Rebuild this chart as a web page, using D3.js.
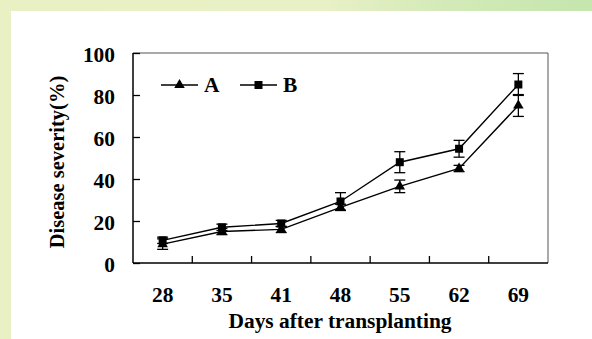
<!DOCTYPE html>
<html>
<head>
<meta charset="utf-8">
<script src="https://cdn.jsdelivr.net/npm/d3@7"></script>
<style>
  body { margin: 0; padding: 0; }
  svg { display: block; }
</style>
</head>
<body>
<svg width="592" height="339"></svg>
<script>
var days = ['28', '35', '41', '48', '55', '62', '69'];
var valuesA = [9, 15, 16, 26.5, 36.5, 45, 75];
var errorsA = [2.5, 1.5, 1.5, 1.5, 3, 1.5, 5.2];
var valuesB = [10.8, 17, 18.8, 29.3, 48, 54.4, 85];
var errorsB = [1.5, 1.5, 1.5, 4.2, 5, 4, 5.2];
var yTicks = [0, 20, 40, 60, 80, 100];
var seriesNames = ['A', 'B'];

var svg = d3.select('svg');
var margin = {top: 53, right: 44, bottom: 76, left: 133};
var width = 592 - margin.left - margin.right;
var height = 339 - margin.top - margin.bottom;
var font = 'Liberation Serif, Times New Roman, serif';
var stretch = 1.07;

// background
var defs = svg.append('defs');
var grad = defs.append('linearGradient').attr('id', 'bg').attr('x1', '0').attr('x2', '1');
grad.append('stop').attr('offset', '0').attr('stop-color', '#e9f0c3');
grad.append('stop').attr('offset', '0.55').attr('stop-color', '#e8f0c6');
grad.append('stop').attr('offset', '0.75').attr('stop-color', '#d3eab8');
grad.append('stop').attr('offset', '1').attr('stop-color', '#c5e6ae');
svg.append('rect').attr('width', 592).attr('height', 339).attr('fill', 'url(#bg)');
svg.append('rect').attr('x', 11).attr('y', 11).attr('width', 581).attr('height', 328).attr('fill', '#fff');

var g = svg.append('g').attr('transform', 'translate(' + margin.left + ',' + margin.top + ')');

var x = d3.scaleBand().domain(days).range([0, width]);
var y = d3.scaleLinear().domain([0, 100]).range([height, 0]);
var cx = function (d, i) { return x(days[i]) + x.bandwidth() / 2; };

// bold text, a little wider than the plain font
function label(parent, px, py, size, anchor, txt) {
    return parent.append('text')
        .attr('transform', 'translate(' + px + ',' + py + ') scale(' + stretch + ',1)')
        .attr('text-anchor', anchor)
        .attr('font-family', font)
        .attr('font-weight', 'bold').attr('font-size', size)
        .text(txt);
}

// frame
g.append('line').attr('x1', 0).attr('x2', width).attr('y1', 0).attr('y2', 0)
    .attr('stroke', '#555').attr('stroke-width', 1);
g.append('line').attr('x1', width).attr('x2', width).attr('y1', 0).attr('y2', height)
    .attr('stroke', '#555').attr('stroke-width', 1);

// y axis, ticks inward
var yAxis = g.append('g')
    .call(d3.axisRight(y).tickValues(yTicks).tickSize(7).tickFormat(''));
yAxis.select('.domain').remove();
yAxis.selectAll('.tick line').attr('stroke', '#000').attr('stroke-width', 1.3);
g.append('line').attr('x1', 0).attr('x2', 0).attr('y1', 0).attr('y2', height)
    .attr('stroke', '#000').attr('stroke-width', 1.5);
yTicks.forEach(function (t) {
    label(g, -18, y(t) + 9, 20, 'end', t);
});

// x axis, ticks inward at band edges
var edges = days.map(function (d) { return x(d); });
g.selectAll('.xtick').data(edges.slice(1)).enter().append('line')
    .attr('x1', function (d) { return d; }).attr('x2', function (d) { return d; })
    .attr('y1', height).attr('y2', height - 7)
    .attr('stroke', '#000').attr('stroke-width', 1.3);
g.append('line').attr('x1', 0).attr('x2', width).attr('y1', height).attr('y2', height)
    .attr('stroke', '#000').attr('stroke-width', 1.5);
days.forEach(function (d) {
    label(g, x(d) + x.bandwidth() / 2, height + 38.5, 20, 'middle', d);
});

// axis titles
label(svg, 340, 328, 20, 'middle', 'Days after transplanting');
svg.append('text')
    .attr('transform', 'translate(64,162) rotate(-90)')
    .attr('text-anchor', 'middle')
    .attr('font-family', font)
    .attr('font-weight', 'bold').attr('font-size', 20.5)
    .text('Disease severity(%)');

var line = d3.line()
    .x(function (d, i) { return x(days[i]) + x.bandwidth() / 2; })
    .y(function (d) { return y(d); });

var triangle = d3.symbol().type(d3.symbolTriangle).size(48);
var square = d3.symbol().type(d3.symbolSquare).size(64);

function drawSeries(vals, errs, sym) {
    var s = g.append('g');
    s.append('path').datum(vals).attr('d', line)
        .attr('fill', 'none').attr('stroke', '#000').attr('stroke-width', 1.4);
    var eb = s.selectAll('.eb').data(vals).enter().append('g');
    eb.append('line')
        .attr('x1', cx).attr('x2', cx)
        .attr('y1', function (d, i) { return y(d - errs[i]); })
        .attr('y2', function (d, i) { return y(d + errs[i]); })
        .attr('stroke', '#000').attr('stroke-width', 1.3);
    [-1, 1].forEach(function (sgn) {
        eb.append('line')
            .attr('x1', function (d, i) { return cx(d, i) - 5.5; })
            .attr('x2', function (d, i) { return cx(d, i) + 5.5; })
            .attr('y1', function (d, i) { return y(d + sgn * errs[i]); })
            .attr('y2', function (d, i) { return y(d + sgn * errs[i]); })
            .attr('stroke', '#000').attr('stroke-width', 1.3);
    });
    s.selectAll('.pt').data(vals).enter().append('path')
        .attr('d', sym)
        .attr('transform', function (d, i) { return 'translate(' + cx(d, i) + ',' + y(d) + ')'; })
        .attr('fill', '#000');
}
drawSeries(valuesA, errorsA, triangle);
drawSeries(valuesB, errorsB, square);

// legend
var legX = [161, 240];
var legSym = [triangle, square];
seriesNames.forEach(function (name, i) {
    var lg = svg.append('g').attr('transform', 'translate(' + legX[i] + ',85)');
    lg.append('line').attr('x1', 0).attr('x2', 37).attr('y1', 0).attr('y2', 0)
        .attr('stroke', '#000').attr('stroke-width', 1.4);
    lg.append('path').attr('d', legSym[i]())
        .attr('transform', 'translate(18.5,0)').attr('fill', '#000');
    label(lg, 43, 7, 20, 'start', name);
});
</script>
</body>
</html>
